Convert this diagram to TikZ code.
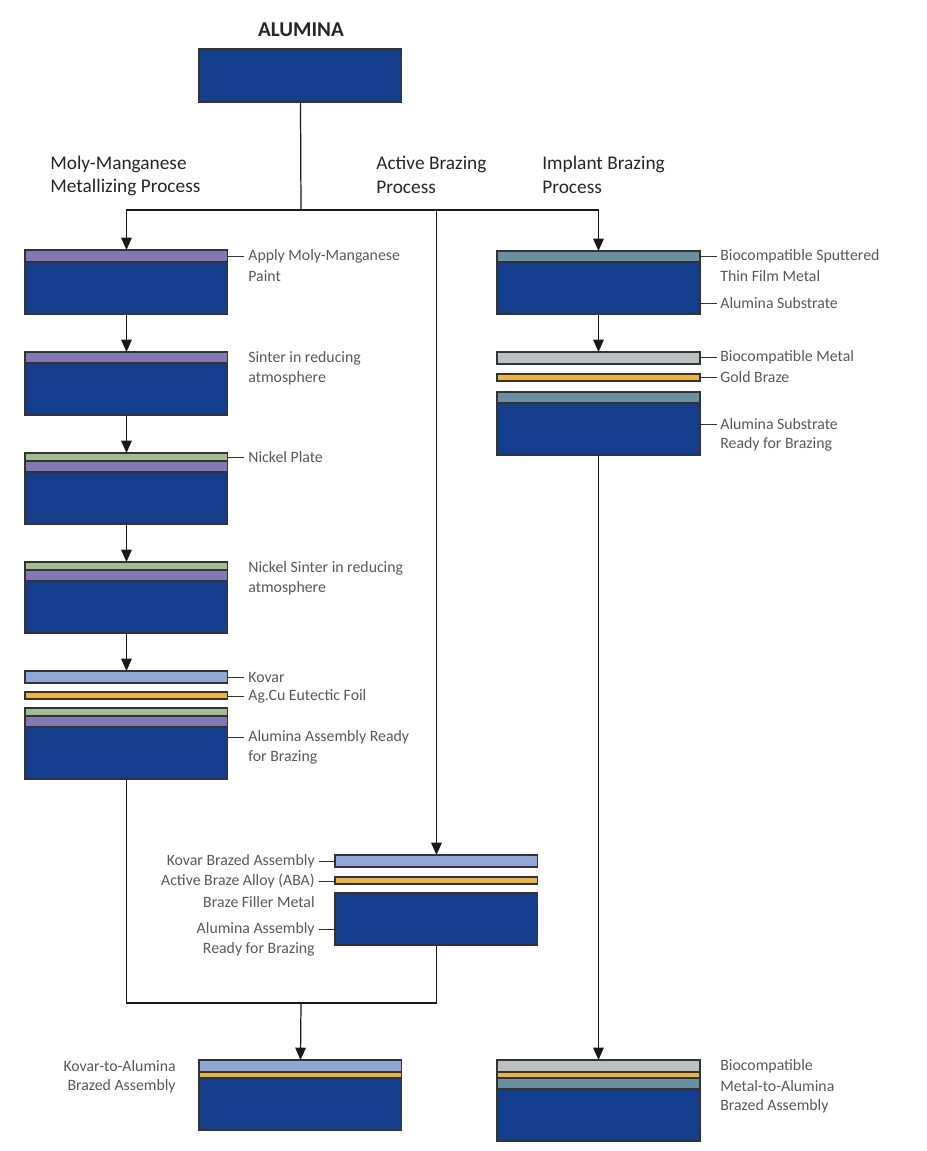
\documentclass[tikz,border=0pt]{standalone}
\usepackage{fontspec}
\setmainfont{Carlito}
\usetikzlibrary{arrows.meta}
\definecolor{aluminablue}{RGB}{20,61,140}
\definecolor{molypurple}{RGB}{130,120,180}
\definecolor{nickelgreen}{RGB}{160,190,145}
\definecolor{kovarblue}{RGB}{143,166,214}
\definecolor{brazeorange}{RGB}{232,180,74}
\definecolor{filmteal}{RGB}{106,143,160}
\definecolor{biogrey}{RGB}{190,191,193}
\definecolor{labelgrey}{RGB}{88,88,88}
\tikzstyle{layer}=[draw=black!80, line width=0.6pt, inner sep=0pt, outer sep=0pt, anchor=north west, minimum width=4.06cm]
\tikzstyle{alumina}=[layer, fill=aluminablue, minimum height=1.04cm]
\tikzstyle{moly}=[layer, fill=molypurple, minimum height=0.23cm]
\tikzstyle{nickel}=[layer, fill=nickelgreen, minimum height=0.16cm]
\tikzstyle{kovar}=[layer, fill=kovarblue, minimum height=0.24cm]
\tikzstyle{braze}=[layer, fill=brazeorange, minimum height=0.14cm]
\tikzstyle{film}=[layer, fill=filmteal, minimum height=0.22cm]
\tikzstyle{biometal}=[layer, fill=biogrey, minimum height=0.24cm]
\tikzstyle{lbl}=[text=labelgrey, font=\fontsize{9}{11}\selectfont, inner sep=0pt, anchor=west]
\tikzstyle{lblr}=[lbl, anchor=east]
\tikzstyle{head}=[text=black!85, font=\fontsize{11}{13}\selectfont, inner sep=0pt, anchor=west]
\tikzstyle{flow}=[line width=0.7pt, black!90]
\tikzstyle{flowarrow}=[flow, -{Triangle[width=6pt,length=7pt]}]
\tikzstyle{tick}=[line width=0.5pt, black!80]

\begin{document}
\begin{tikzpicture}[x=0.02cm, y=-0.02cm]
\useasboundingbox (0,0) rectangle (926,1151);

\node[text=black!85, font=\fontsize{12}{14}\selectfont\bfseries, inner sep=0pt] (atitle) at (301,30) {ALUMINA};
\node[alumina, minimum height=1.06cm] (alu) at (199,49) {};

\node[head] (h1a) at (50,164) {Moly-Manganese};
\node[head] (h1b) at (50,187) {Metallizing Process};
\node[head] (h2a) at (376,164) {Active Brazing};
\node[head] (h2b) at (376,187) {Process};
\node[head] (h3a) at (542,164) {Implant Brazing};
\node[head] (h3b) at (542,187) {Process};

% moly-manganese column
\node[moly] (mm1) at (25,250) {};
\node[alumina] (al1) at (25,262) {};
\node[moly] (mm2) at (25,352) {};
\node[alumina] (al2) at (25,363) {};
\node[nickel] (ni3) at (25,453) {};
\node[moly] (mm3) at (25,461) {};
\node[alumina] (al3) at (25,472) {};
\node[nickel] (ni4) at (25,562) {};
\node[moly] (mm4) at (25,570) {};
\node[alumina] (al4) at (25,581) {};
\node[kovar] (kv5) at (25,671) {};
\node[braze] (ag5) at (25,692) {};
\node[nickel] (ni5) at (25,708) {};
\node[moly] (mm5) at (25,716) {};
\node[alumina] (al5) at (25,727) {};

\node[lbl] (l1) at (248,256) {Apply Moly-Manganese};
\node[lbl] (l1b) at (248,276) {Paint};
\node[lbl] (l2) at (248,358) {Sinter in reducing};
\node[lbl] (l2b) at (248,378) {atmosphere};
\node[lbl] (l3) at (248,457) {Nickel Plate};
\node[lbl] (l4) at (248,568) {Nickel Sinter in reducing};
\node[lbl] (l4b) at (248,588) {atmosphere};
\node[lbl] (l5) at (248,677) {Kovar};
\node[lbl] (l6) at (248,696) {Ag.Cu Eutectic Foil};
\node[lbl] (l7) at (248,737) {Alumina Assembly Ready};
\node[lbl] (l7b) at (248,757) {for Brazing};

% active brazing column
\node[kovar] (kvA) at (335,855) {};
\node[braze] (abA) at (335,877) {};
\node[alumina] (alA) at (335,893) {};

\node[lblr] (m1) at (315,861) {Kovar Brazed Assembly};
\node[lblr] (m2) at (315,881) {Active Braze Alloy (ABA)};
\node[lblr] (m3) at (315,902) {Braze Filler Metal};
\node[lblr] (m4) at (315,929) {Alumina Assembly};
\node[lblr] (m4b) at (315,949) {Ready for Brazing};

% implant brazing column
\node[film] (tf1) at (497,251) {};
\node[alumina] (sub1) at (497,262) {};
\node[biometal] (bio2) at (497,352) {};
\node[braze] (au2) at (497,374) {};
\node[film] (tf2) at (497,392) {};
\node[alumina] (sub2) at (497,403) {};

\node[lbl] (r1) at (720,256) {Biocompatible Sputtered};
\node[lbl] (r1b) at (720,276) {Thin Film Metal};
\node[lbl] (r2) at (720,303) {Alumina Substrate};
\node[lbl] (r3) at (720,357) {Biocompatible Metal};
\node[lbl] (r4) at (720,377) {Gold Braze};
\node[lbl] (r5) at (720,424) {Alumina Substrate};
\node[lbl] (r5b) at (720,444) {Ready for Brazing};

% brazed assemblies
\node[kovar] (kvB) at (199,1060) {};
\node[braze] (agB) at (199,1072) {};
\node[alumina] (alB) at (199,1078) {};
\node[lblr] (b1) at (176,1066) {Kovar-to-Alumina};
\node[lblr] (b1b) at (176,1086) {Brazed Assembly};

\node[biometal] (bio3) at (497,1060) {};
\node[braze] (au3) at (497,1072) {};
\node[film] (tf3) at (497,1078) {};
\node[alumina] (sub3) at (497,1089) {};
\node[lbl] (b2) at (720,1066) {Biocompatible};
\node[lbl] (b2b) at (720,1086) {Metal-to-Alumina};
\node[lbl] (b2c) at (720,1106) {Brazed Assembly};

\coordinate (split) at (301,210);
\coordinate (merge) at (301,1003);

\draw[flow] (alu.south) -- (split);
\draw[flowarrow] (split) -| (mm1.north);
\draw[flowarrow] (split) -| (tf1.north);
\draw[flowarrow] (split) -| (kvA.north);
\draw[flowarrow] (al1.south) -- (mm2.north);
\draw[flowarrow] (al2.south) -- (ni3.north);
\draw[flowarrow] (al3.south) -- (ni4.north);
\draw[flowarrow] (al4.south) -- (kv5.north);
\draw[flow] (al5.south) |- (merge);
\draw[flow] (alA.south) |- (merge);
\draw[flowarrow] (merge) -- (kvB.north);
\draw[flowarrow] (sub1.south) -- (bio2.north);
\draw[flowarrow] (sub2.south) -- (bio3.north);

\draw[tick] (mm1.east |- l1.west) -- ([xshift=-2pt]l1.west);
\draw[tick] (ni3.east |- l3.west) -- ([xshift=-2pt]l3.west);
\draw[tick] (kv5.east |- l5.west) -- ([xshift=-2pt]l5.west);
\draw[tick] (ag5.east |- l6.west) -- ([xshift=-2pt]l6.west);
\draw[tick] (al5.east |- l7.west) -- ([xshift=-2pt]l7.west);
\draw[tick] (tf1.east |- r1.west) -- ([xshift=-2pt]r1.west);
\draw[tick] (sub1.east |- r2.west) -- ([xshift=-2pt]r2.west);
\draw[tick] (bio2.east |- r3.west) -- ([xshift=-2pt]r3.west);
\draw[tick] (au2.east |- r4.west) -- ([xshift=-2pt]r4.west);
\draw[tick] (sub2.east |- r5.west) -- ([xshift=-2pt]r5.west);
\draw[tick] ([xshift=2pt]m1.east) -- (kvA.west |- m1.east);
\draw[tick] ([xshift=2pt]m2.east) -- (abA.west |- m2.east);
\draw[tick] ([xshift=2pt]m4.east) -- (alA.west |- m4.east);

\end{tikzpicture}
\end{document}
